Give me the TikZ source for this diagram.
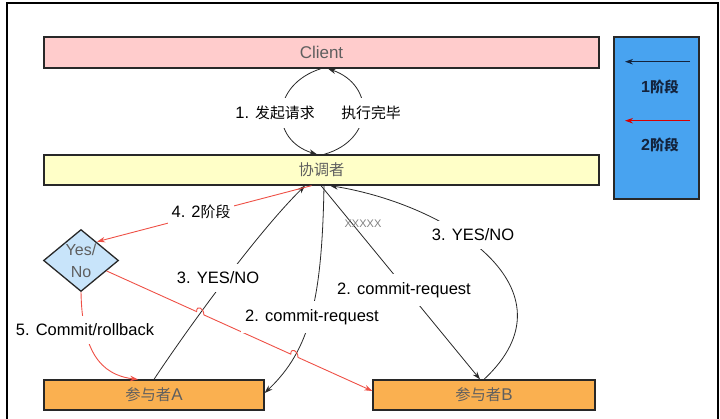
\documentclass[tikz,border=0pt]{standalone}
\usepackage{fontspec}
\setmainfont{Liberation Sans}
\newfontfamily\cjk[Scale=0.9]{Noto Sans CJK SC}
\usetikzlibrary{arrows.meta,shapes.geometric,calc,intersections}
\definecolor{clientfill}{RGB}{255,204,204}
\definecolor{coordfill}{RGB}{255,255,200}
\definecolor{legblue}{RGB}{72,163,240}
\definecolor{diafill}{RGB}{200,228,250}
\definecolor{partfill}{RGB}{250,176,80}
\definecolor{redline}{RGB}{238,80,70}
\definecolor{boxtext}{RGB}{95,95,95}
\definecolor{darkline}{RGB}{40,40,40}
\definecolor{legtext}{RGB}{20,35,60}
\begin{document}
\begin{tikzpicture}[x=1pt,y=-1pt,
  box/.style={draw=darkline, line width=1.3pt, inner sep=0pt, text=boxtext, font=\fontsize{17}{19}\selectfont},
  conn/.style={draw=darkline, line width=0.8pt, -{Stealth[length=8pt,width=5.5pt]}},
  redconn/.style={draw=redline, line width=0.9pt, -{Stealth[length=8pt,width=5.5pt]}},
  lbl/.style={fill=white, inner xsep=4pt, inner ysep=8pt, text=black, font=\fontsize{16.5}{18}\selectfont},
  legtxt/.style={text=legtext, font=\fontsize{16}{18}\selectfont\bfseries, inner sep=0pt},
]
\useasboundingbox (0,0) rectangle (720,419);
\draw[line width=1.2pt] (7,419) -- (7,3) -- (718,3) -- (718,419);

% boxes
\node[box, fill=clientfill, minimum width=555pt, minimum height=31pt] (client) at (321.5,52.5) {Client};
\node[box, fill=coordfill, minimum width=555pt, minimum height=30pt] (coord) at (321.5,170) {{\cjk 协调者}};
\node[box, fill=legblue, minimum width=85pt, minimum height=162pt] (legend) at (656.5,118) {};
\node[box, fill=diafill, diamond, minimum width=75pt, minimum height=62pt] (dia) at (81,260.5) {};
\node[text=boxtext, align=center, inner sep=0pt, font=\fontsize{16}{22}\selectfont] (diatext) at (dia) {Yes/\\No};
\node[box, fill=partfill, minimum width=220pt, minimum height=30pt] (pa) at (154,395) {{\cjk 参与者}A};
\node[box, fill=partfill, minimum width=222pt, minimum height=30pt] (pb) at (484,395) {{\cjk 参与者}B};

% legend
\coordinate (l1s) at (690,61.7);
\coordinate (l1e) at (625,61.7);
\coordinate (l2s) at (690,120.7);
\coordinate (l2e) at (625,120.7);
\draw[conn, draw=legtext] (l1s) -- (l1e);
\draw[redconn, draw=red!85!black] (l2s) -- (l2e);
\node[legtxt] (leg1) at (660,87) {1{\cjk 阶段}};
\node[legtxt] (leg2) at (660,145) {2{\cjk 阶段}};

% client <-> coordinator
\draw[conn] ([xshift=-0.5pt]client.south) .. controls (270,85) and (270,140) .. ([xshift=-4.5pt]coord.north);
\draw[conn] ([xshift=2.5pt]coord.north) .. controls (375,140) and (375,85) .. ([xshift=6.5pt]client.south);

% coordinator <-> participants
\draw[conn, name path=ynL] (pa.north) .. controls (184,334) and (255,235) .. ([xshift=-16.5pt]coord.south);
\draw[conn, name path=crL] ([xshift=2.5pt]coord.south) .. controls (322,300) and (310,350) .. ([yshift=2pt]pa.east);
\draw[conn] ([xshift=-0.5pt]coord.south) -- ([xshift=-4pt]pb.north);
\draw[conn] (pb.north) .. controls (580,290) and (450,205) .. ([xshift=8.5pt]coord.south);

% red: phase 2
\draw[redconn] ([xshift=-10pt]coord.south) -- ([xshift=-3pt,yshift=3pt]dia.north east);
\draw[redconn] (dia.south) .. controls (82,350) and (100,375) .. ([xshift=-16pt]pa.north);

\coordinate (rs) at ($(dia.east)!0.33!(dia.south)$);
\coordinate (re) at ([yshift=4pt]pb.west);
\path[name path=redp] (rs) -- (re);
\path[name intersections={of=redp and ynL, by=j1}];
\path[name intersections={of=redp and crL, by=j2}];
\coordinate (j1a) at ($(j1)!4pt!(rs)$);
\coordinate (j1b) at ($(j1)!4pt!(re)$);
\coordinate (j2a) at ($(j2)!4pt!(rs)$);
\coordinate (j2b) at ($(j2)!4pt!(re)$);
\draw[redconn] (rs) -- (j1a) .. controls ($(j1a)+(0,-7)$) and ($(j1b)+(0,-7)$) .. (j1b)
  -- (j2a) .. controls ($(j2a)+(0,-7)$) and ($(j2b)+(0,-7)$) .. (j2b) -- (re);

% labels
\node[lbl] (lab1) at (275,113) {1. {\cjk 发起请求}};
\node[lbl] (lab1b) at (371,113) {{\cjk 执行完毕}};
\node[lbl] (lab4) at (201,212) {4. 2{\cjk 阶段}};
\node[lbl] (lab3a) at (218,278) {3. YES/NO};
\node[lbl] (lab2a) at (312,317) {2. commit-request};
\node[lbl] (lab2b) at (404,290) {2. commit-request};
\node[lbl] (lab3b) at (473,235) {3. YES/NO};
\node[lbl] (lab5) at (85,330) {5. Commit/rollback};
\node[text=gray, font=\fontsize{11}{12}\selectfont, inner sep=0pt] (xx) at (363,224) {XXXXX};
\end{tikzpicture}
\end{document}
